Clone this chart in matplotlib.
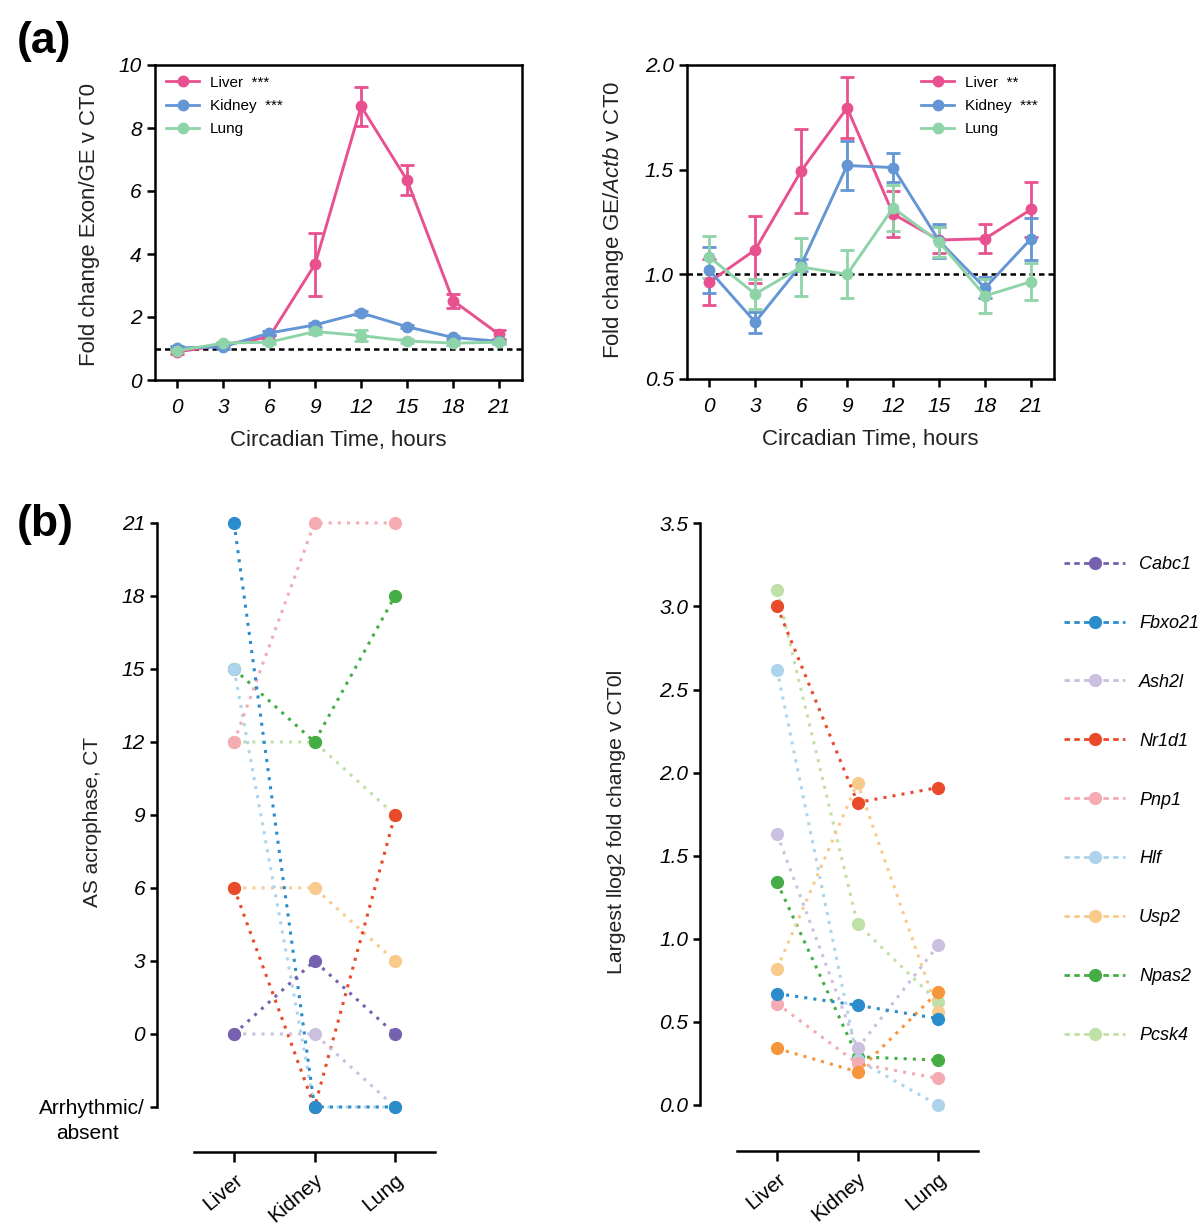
import matplotlib
matplotlib.use("Agg")
import matplotlib.pyplot as plt
from matplotlib.lines import Line2D

plt.rcParams['font.family'] = ['Liberation Sans', 'DejaVu Sans']
plt.rcParams['mathtext.fontset'] = 'custom'
plt.rcParams['mathtext.rm'] = 'Liberation Sans'
plt.rcParams['mathtext.it'] = 'Liberation Sans:italic'

# ---- datos panel (a) ----
ct = [0, 3, 6, 9, 12, 15, 18, 21]
tejidos = ['Liver', 'Kidney', 'Lung']
etiquetas_izq = ['Liver  ***', 'Kidney  ***', 'Lung']
etiquetas_der = ['Liver  **', 'Kidney  ***', 'Lung']
colores_tejido = ['#e8508f', '#6495d4', '#8fd4a9']

exon_liver = [0.89, 1.12, 1.36, 3.68, 8.69, 6.34, 2.52, 1.45]
exon_kidney = [1.02, 1.05, 1.49, 1.75, 2.13, 1.69, 1.35, 1.23]
exon_lung = [0.93, 1.17, 1.20, 1.54, 1.41, 1.24, 1.17, 1.20]
exon_liver_err = [0.05, 0.05, 0.08, 1.00, 0.62, 0.47, 0.22, 0.14]
exon_kidney_err = [0.05, 0.05, 0.05, 0.06, 0.06, 0.05, 0.05, 0.04]
exon_lung_err = [0.05, 0.05, 0.05, 0.07, 0.17, 0.05, 0.05, 0.05]

ge_liver = [0.963, 1.117, 1.494, 1.795, 1.288, 1.164, 1.170, 1.310]
ge_kidney = [1.020, 0.772, 1.045, 1.520, 1.510, 1.160, 0.935, 1.170]
ge_lung = [1.083, 0.906, 1.035, 1.000, 1.317, 1.155, 0.897, 0.965]
ge_liver_err = [0.11, 0.16, 0.20, 0.146, 0.11, 0.06, 0.07, 0.13]
ge_kidney_err = [0.11, 0.05, 0.03, 0.115, 0.07, 0.08, 0.05, 0.10]
ge_lung_err = [0.10, 0.07, 0.14, 0.115, 0.11, 0.07, 0.08, 0.09]

# ---- datos panel (b) ----
genes = ['Cabc1', 'Fbxo21', 'Ash2l', 'Nr1d1', 'Pnp1', 'Hlf', 'Usp2', 'Npas2', 'Pcsk4']
colores_gen = ['#7561b0', '#2b8ccc', '#cbc0df', '#e84a2a', '#f4abb1',
               '#aed4ec', '#f8ca8c', '#45ad45', '#bfe0a6']
colores_gen_der = ['#f7953a', '#2b8ccc', '#cbc0df', '#e84a2a', '#f4abb1',
                   '#aed4ec', '#f8ca8c', '#45ad45', '#bfe0a6']
# -3 = arritmico / ausente
acrofase = [
    [0, 3, 0],
    [21, -3, -3],
    [0, 0, -3],
    [6, -3, 9],
    [12, 21, 21],
    [15, -3, -3],
    [6, 6, 3],
    [15, 12, 18],
    [12, 12, 9],
]
log2_fc = [
    [0.34, 0.20, 0.68],
    [0.67, 0.60, 0.52],
    [1.63, 0.34, 0.96],
    [3.00, 1.82, 1.91],
    [0.61, 0.25, 0.16],
    [2.62, 0.27, 0.00],
    [0.82, 1.94, 0.56],
    [1.34, 0.29, 0.27],
    [3.10, 1.09, 0.62],
]
ticks_acrofase = [-3, 0, 3, 6, 9, 12, 15, 18, 21]
ticks_fc = [0.0, 0.5, 1.0, 1.5, 2.0, 2.5, 3.0, 3.5]

W, H = 1200, 1230


def ejes_px(fig, izq, arriba, der, abajo):
    return fig.add_axes([izq / W, 1 - abajo / H, (der - izq) / W, (abajo - arriba) / H])


def panel_linea(ax, series, errores, etiquetas, yticks, ylim, fmt, loc_leyenda, ancla):
    for s, e, c, lab in zip(series, errores, colores_tejido, etiquetas):
        ax.errorbar(ct, s, yerr=e, color=c, lw=2.1, marker='o', ms=7.5,
                    capsize=5, capthick=2, elinewidth=2, label=lab)
    ax.axhline(1.0, color='black', ls=(0, (2.2, 1.6)), lw=1.8, zorder=0)
    ax.set_xlim(-1.45, 22.5)
    ax.set_ylim(*ylim)
    ax.set_xticks(ct)
    ax.set_xticklabels([str(v) for v in ct], fontstyle='italic')
    ax.set_yticks(yticks)
    ax.set_yticklabels([fmt.format(v) for v in yticks], fontstyle='italic')
    ax.tick_params(labelsize=15, width=1.8, length=6, direction='out')
    ax.tick_params(axis='x', pad=7)
    for sp in ax.spines.values():
        sp.set_linewidth(1.8)
    ax.set_xlabel('Circadian Time, hours', fontsize=16, color='#222222', labelpad=9)
    handles = [Line2D([], [], color=c, lw=2, marker='o', ms=7.5) for c in colores_tejido]
    ax.legend(handles, etiquetas, loc=loc_leyenda, bbox_to_anchor=ancla, frameon=False,
              fontsize=11, handlelength=2.2, handletextpad=0.7, labelspacing=0.6,
              borderaxespad=0.3)


def panel_puntos(ax, datos, colores, ylim, yticks):
    # se dibuja al reves para que Cabc1 quede encima
    for fila, c in reversed(list(zip(datos, colores))):
        ax.plot([0, 1, 2], fila, color=c, lw=2.2, ls=(0, (1, 2)), marker='o',
                ms=8.5, clip_on=False)
    ax.set_xlim(-0.957, 2.497)
    ax.set_ylim(*ylim)
    ax.spines['top'].set_visible(False)
    ax.spines['right'].set_visible(False)
    ax.spines['left'].set_linewidth(1.8)
    ax.spines['bottom'].set_linewidth(1.8)
    ax.spines['left'].set_bounds(yticks[0], yticks[-1])
    ax.spines['bottom'].set_bounds(-0.497, 2.497)
    ax.set_xticks([0, 1, 2])
    ax.set_xticklabels(tejidos, rotation=40, ha='right', rotation_mode='anchor')
    ax.set_yticks(yticks)
    ax.tick_params(labelsize=15, width=1.8, length=5, direction='out')
    ax.tick_params(axis='x', length=7, pad=6)


def main():
    fig = plt.figure(figsize=(12, 12.3), dpi=100)

    # (a) izquierda
    ax1 = ejes_px(fig, 155, 65, 522, 380)
    panel_linea(ax1, [exon_liver, exon_kidney, exon_lung],
                [exon_liver_err, exon_kidney_err, exon_lung_err],
                etiquetas_izq, [0, 2, 4, 6, 8, 10], (0, 10), '{:g}',
                'upper left', (0.0, 1.0))
    fig.text(90 / W, 1 - 224 / H, 'Fold change Exon/GE v CT0', rotation=90,
             ha='center', va='center', fontsize=16, color='#222222')

    # (a) derecha
    ax2 = ejes_px(fig, 687, 65, 1054, 379)
    panel_linea(ax2, [ge_liver, ge_kidney, ge_lung],
                [ge_liver_err, ge_kidney_err, ge_lung_err],
                etiquetas_der, [0.5, 1.0, 1.5, 2.0], (0.5, 2.0), '{:.1f}',
                'upper right', (0.985, 1.0))
    fig.text(613 / W, 1 - 220 / H, r'Fold change GE/$\mathit{Actb}$ v CT0', rotation=90,
             ha='center', va='center', fontsize=16, color='#222222')

    # (b) izquierda
    ax3 = ejes_px(fig, 157, 520, 435, 1152)
    panel_puntos(ax3, acrofase, colores_gen, (-4.85, 21.12), ticks_acrofase)
    ax3.set_yticklabels(['Arrhythmic/'] + [str(v) for v in ticks_acrofase[1:]])
    for lab in ax3.get_yticklabels()[1:]:
        lab.set_fontstyle('italic')
    ax3.annotate('absent', xy=(0, -3), xycoords=('axes fraction', 'data'),
                 xytext=(-50, -19), textcoords='offset points', ha='center',
                 va='center', fontsize=15)
    fig.text(92 / W, 1 - 822 / H, 'AS acrophase, CT', rotation=90,
             ha='center', va='center', fontsize=15, color='#222222')

    # (b) derecha
    ax4 = ejes_px(fig, 700, 520, 978, 1151)
    panel_puntos(ax4, log2_fc, colores_gen_der, (-0.277, 3.52), ticks_fc)
    ax4.set_yticklabels(['{:.1f}'.format(v) for v in ticks_fc], fontstyle='italic')
    fig.text(617 / W, 1 - 822 / H, 'Largest llog2 fold change v CT0l', rotation=90,
             ha='center', va='center', fontsize=15.3, color='#222222')

    # leyenda de genes
    handles = [Line2D([], [], color=c, lw=2, ls=(0, (2, 1.5)), marker='o', ms=8.5)
               for c in colores_gen]
    fig.legend(handles, genes, loc='upper left',
               bbox_to_anchor=(1055 / W, 1 - 547 / H), frameon=False,
               prop={'size': 13, 'style': 'italic'}, handlelength=3.4,
               handletextpad=0.75, labelspacing=2.32, borderpad=0)

    fig.text(17 / W, 1 - 41 / H, '(a)', fontsize=32, fontweight='bold',
             va='center', ha='left')
    fig.text(17 / W, 1 - 525 / H, '(b)', fontsize=32, fontweight='bold',
             va='center', ha='left')

    fig.savefig('out.png', dpi=100)


if __name__ == "__main__":
    main()
